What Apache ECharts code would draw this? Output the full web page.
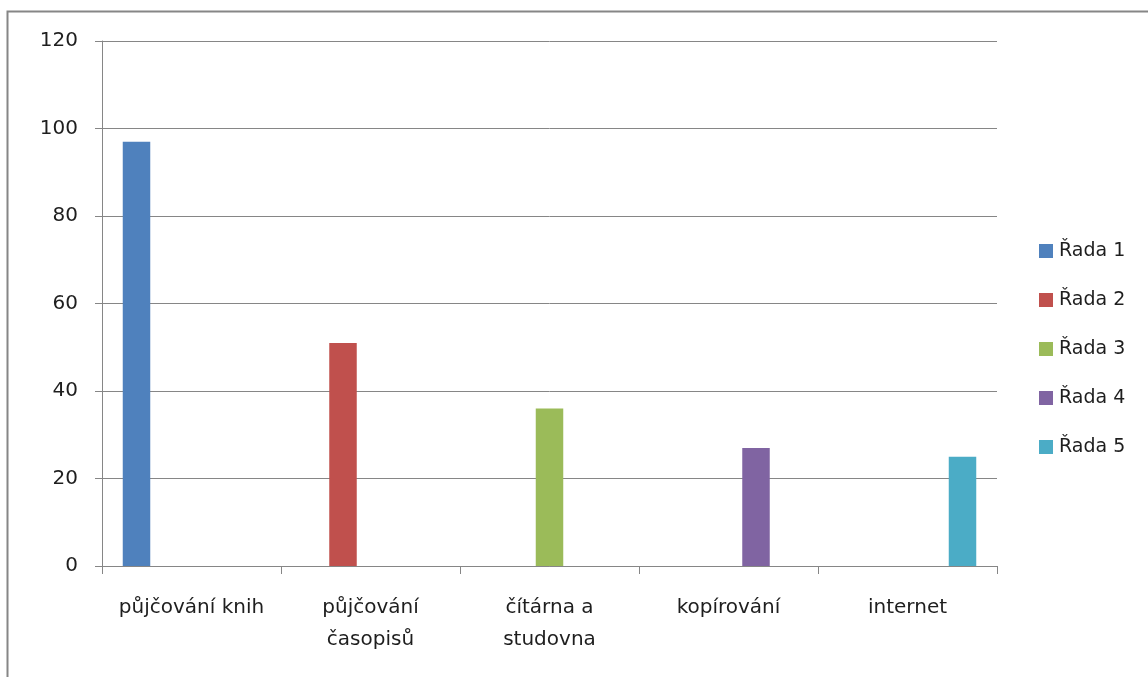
<!DOCTYPE html>
<html>
<head>
<meta charset="utf-8">
<script src="https://cdn.jsdelivr.net/npm/echarts@6/dist/echarts.min.js"></script>
<style>
  html, body { margin: 0; padding: 0; background: #fff; }
  #chart { width: 1148px; height: 677px; }
</style>
</head>
<body>
<div id="chart"></div>
<script>
// Services of the library and how many respondents use them
const categories = ['půjčování knih', 'půjčování\nčasopisů', 'čítárna a\nstudovna', 'kopírování', 'internet'];
const seriesNames = ['Řada 1', 'Řada 2', 'Řada 3', 'Řada 4', 'Řada 5'];
const rada1 = [97, null, null, null, null];
const rada2 = [null, 51, null, null, null];
const rada3 = [null, null, 36, null, null];
const rada4 = [null, null, null, 27, null];
const rada5 = [null, null, null, null, 25];
const yTicks = [0, 20, 40, 60, 80, 100, 120];

const seriesData = [rada1, rada2, rada3, rada4, rada5];
const colors = ['#4f81bd', '#c0504d', '#9bbb59', '#8064a2', '#4bacc6'];
const FONT = '"DejaVu Sans", sans-serif';
const GRAY = '#868686';
const TEXT = '#1e1e1e';

const chart = echarts.init(document.getElementById('chart'), null, { renderer: 'canvas' });
chart.setOption({
  animation: false,
  color: colors,
  textStyle: { fontFamily: FONT },
  graphic: [{
    type: 'rect',
    shape: { x: 7.5, y: 11.5, width: 1300, height: 900 },
    style: { fill: 'none', stroke: GRAY, lineWidth: 2 },
    silent: true
  }],
  grid: { left: 102, top: 41, width: 895, height: 525, containLabel: false },
  legend: {
    orient: 'vertical',
    left: 1034,
    top: 235,
    itemWidth: 14,
    itemHeight: 14,
    itemGap: 27,
    icon: 'rect',
    data: seriesNames,
    textStyle: { fontFamily: FONT, fontSize: 19, lineHeight: 22, color: TEXT, padding: [0, 0, 0, 1] }
  },
  xAxis: {
    type: 'category',
    data: categories,
    axisLine: { lineStyle: { color: GRAY, width: 1 } },
    axisTick: { show: true, length: 8, alignWithLabel: false, lineStyle: { color: GRAY } },
    axisLabel: {
      color: TEXT, fontFamily: FONT, fontSize: 20, margin: 26, lineHeight: 32, interval: 0
    }
  },
  yAxis: {
    type: 'value',
    min: yTicks[0],
    max: yTicks[yTicks.length - 1],
    interval: yTicks[1] - yTicks[0],
    axisLine: { show: true, lineStyle: { color: GRAY, width: 1 } },
    axisTick: { show: true, length: 7, lineStyle: { color: GRAY } },
    splitLine: { show: true, lineStyle: { color: GRAY, width: 1 } },
    axisLabel: { color: TEXT, fontFamily: FONT, fontSize: 20, margin: 24 }
  },
  series: seriesNames.map((name, i) => ({
    name: name,
    type: 'bar',
    data: seriesData[i],
    barWidth: 27.5,
    barGap: '0%',
    itemStyle: { color: colors[i] }
  }))
});
</script>
</body>
</html>
